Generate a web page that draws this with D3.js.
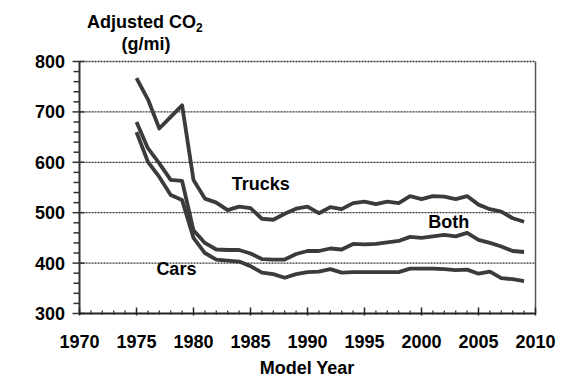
<!DOCTYPE html>
<html>
<head>
<meta charset="utf-8">
<script src="https://cdn.jsdelivr.net/npm/d3@7"></script>
<style>
  body { margin: 0; background: #fff; }
  text { font-family: Arial, "Liberation Sans", sans-serif; font-weight: bold; fill: #000; }
</style>
</head>
<body>
<svg id="chart" width="582" height="388"></svg>
<script>
// Данные
const years = d3.range(1975, 2010);
const trucks = [767, 725, 667, 690, 713, 565, 528, 520, 505, 512, 509, 488, 486, 498, 508, 512, 499, 511, 507, 519,
                522, 517, 522, 519, 533, 527, 533, 532, 527, 533, 516, 507, 502, 489, 482];
const both = [680, 628, 598, 565, 563, 465, 440, 427, 426, 426, 419, 408, 407, 407, 418, 424, 424, 429, 427, 438,
              437, 438, 441, 444, 452, 450, 453, 456, 453, 460, 446, 440, 433, 424, 422];
const cars = [660, 601, 571, 535, 525, 450, 420, 407, 405, 403, 394, 381, 378, 371, 378, 382, 383, 388, 381, 382,
              382, 382, 382, 382, 389, 389, 389, 388, 386, 387, 379, 383, 370, 368, 364];
const yTicks = [300, 400, 500, 600, 700, 800];
const xTicks = [1970, 1975, 1980, 1985, 1990, 1995, 2000, 2005, 2010];

const series = [
  { name: 'Trucks', values: trucks, labelX: 1985.9, labelY: 545 },
  { name: 'Both', values: both, labelX: 2002.4, labelY: 470 },
  { name: 'Cars', values: cars, labelX: 1978.5, labelY: 376 }
];

const svg = d3.select('#chart');
const x = d3.scaleLinear().domain([1970, 2010]).range([79.5, 535.5]);
const y = d3.scaleLinear().domain([300, 800]).range([313.5, 61.5]);

const lineColor = '#3b3b3b';
const fontSize = '18px';

// Сетка
svg.append('g')
  .selectAll('line')
  .data(yTicks.filter(d => d > 300))
  .enter().append('line')
  .attr('x1', x(1970)).attr('x2', x(2010))
  .attr('y1', d => y(d)).attr('y2', d => y(d))
  .attr('stroke', '#333')
  .attr('stroke-width', 1.3)
  .attr('stroke-dasharray', '2,1');

// Правая граница
svg.append('line')
  .attr('x1', x(2010)).attr('x2', x(2010))
  .attr('y1', y(800)).attr('y2', y(300))
  .attr('stroke', '#555').attr('stroke-width', 1.5);

// Ось Y
const yAxis = svg.append('g');
yAxis.append('line')
  .attr('x1', x(1970)).attr('x2', x(1970))
  .attr('y1', y(800)).attr('y2', y(300))
  .attr('stroke', '#333').attr('stroke-width', 2);
yAxis.selectAll('.minor')
  .data(d3.range(300, 801, 20).filter(d => d % 100 !== 0))
  .enter().append('line')
  .attr('x1', x(1970) - 6).attr('x2', x(1970))
  .attr('y1', d => y(d)).attr('y2', d => y(d))
  .attr('stroke', '#333').attr('stroke-width', 1.5);
yAxis.selectAll('.major')
  .data(yTicks)
  .enter().append('line')
  .attr('x1', x(1970) - 7).attr('x2', x(1970) + 5)
  .attr('y1', d => y(d)).attr('y2', d => y(d))
  .attr('stroke', '#333').attr('stroke-width', 1.5);
yAxis.selectAll('text')
  .data(yTicks)
  .enter().append('text')
  .attr('x', 65)
  .attr('y', d => y(d))
  .attr('dy', '0.36em')
  .attr('text-anchor', 'end')
  .style('font-size', fontSize)
  .text(d => d);

// Ось X
const xAxis = svg.append('g');
xAxis.append('line')
  .attr('x1', x(1970)).attr('x2', x(2010))
  .attr('y1', y(300)).attr('y2', y(300))
  .attr('stroke', '#222').attr('stroke-width', 2);
xAxis.selectAll('.minor')
  .data(d3.range(1971, 2010).filter(d => d % 5 !== 0))
  .enter().append('line')
  .attr('x1', d => x(d)).attr('x2', d => x(d))
  .attr('y1', y(300) - 3).attr('y2', y(300) + 1)
  .attr('stroke', '#333').attr('stroke-width', 1.3);
xAxis.selectAll('.major')
  .data(xTicks)
  .enter().append('line')
  .attr('x1', d => x(d)).attr('x2', d => x(d))
  .attr('y1', y(300) - 6).attr('y2', y(300) + 2)
  .attr('stroke', '#222').attr('stroke-width', 1.5);
xAxis.selectAll('text')
  .data(xTicks)
  .enter().append('text')
  .attr('x', d => x(d))
  .attr('y', 348)
  .attr('text-anchor', 'middle')
  .style('font-size', fontSize)
  .text(d => d);

svg.append('text')
  .attr('x', 307).attr('y', 374)
  .attr('text-anchor', 'middle')
  .style('font-size', fontSize)
  .text('Model Year');

// Заголовок оси Y
const title = svg.append('text')
  .attr('x', 87).attr('y', 28)
  .style('font-size', fontSize);
title.append('tspan').text('Adjusted CO');
title.append('tspan').attr('dy', 4).style('font-size', '12px').text('2');
svg.append('text')
  .attr('x', 146).attr('y', 50)
  .attr('text-anchor', 'middle')
  .style('font-size', fontSize)
  .text('(g/mi)');

// Линии
const line = d3.line()
  .x((d, i) => x(years[i]))
  .y(d => y(d));

svg.append('g')
  .selectAll('path')
  .data(series)
  .enter().append('path')
  .attr('d', d => line(d.values))
  .attr('fill', 'none')
  .attr('stroke', lineColor)
  .attr('stroke-width', 3.8)
  .attr('stroke-linejoin', 'round');

// Подписи серий
svg.append('g')
  .selectAll('text')
  .data(series)
  .enter().append('text')
  .attr('x', d => x(d.labelX))
  .attr('y', d => y(d.labelY))
  .attr('text-anchor', 'middle')
  .style('font-size', fontSize)
  .text(d => d.name);
</script>
</body>
</html>
